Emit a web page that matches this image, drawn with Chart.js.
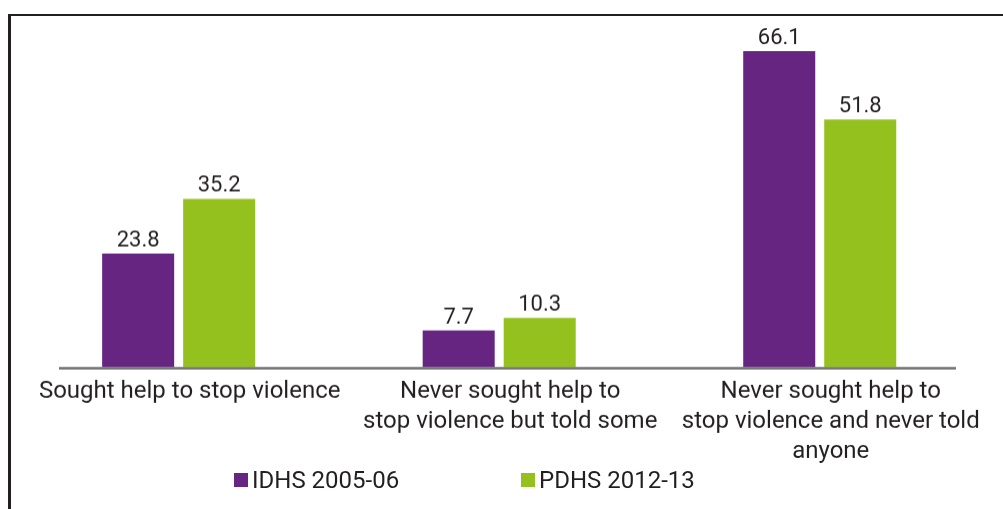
<!DOCTYPE html>
<html>
<head>
<meta charset="utf-8">
<script src="https://cdn.jsdelivr.net/npm/chart.js@4.4.1/dist/chart.umd.min.js"></script>
<style>
  html, body { margin: 0; padding: 0; background: #fff; }
  body { width: 1003px; height: 509px; position: relative; overflow: hidden; font-family: Roboto, sans-serif; }
  .frame { position: absolute; left: 8px; top: 14px; width: 1100px; height: 600px;
           border-left: 3px solid #231f20; border-top: 2px solid #231f20; box-sizing: border-box; }
  .wrap { position: absolute; left: 0; top: 0; width: 1003px; height: 509px; }
  #legend { position: absolute; top: 466px; left: 0; width: 1003px; height: 28px; font-size: 24px; color: #231f20; }
  #legend .item { position: absolute; top: 0; line-height: 28px; white-space: nowrap; }
  #legend .sw { display: inline-block; width: 14px; height: 14px; margin-right: 4px; vertical-align: 1px; }
</style>
</head>
<body>
<div class="frame"></div>
<div class="wrap"><canvas id="chartHelp"></canvas></div>
<div id="legend"></div>
<script>
// Help-seeking among women who experienced violence (%), IDHS vs PDHS

const CATEGORIES = [
  ['Sought help to stop violence'],
  ['Never sought help to', 'stop violence but told some'],
  ['Never sought help to', 'stop violence and never told', 'anyone'],
];
const SERIES_NAMES = ['IDHS 2005-06', 'PDHS 2012-13'];
const IDHS_VALUES = [23.8, 7.7, 66.1];
const PDHS_VALUES = [35.2, 10.3, 51.8];

const COLORS = {
  purple: '#652581',
  green: '#95c11f',
  ink: '#231f20',
  axis: '#6e6e6e',
};

// value labels above each bar
const barLabels = {
  id: 'barLabels',
  afterDatasetsDraw(chart) {
    const ctx = chart.ctx;
    ctx.save();
    ctx.font = '22px Roboto';
    ctx.fillStyle = COLORS.ink;
    ctx.textAlign = 'center';
    ctx.textBaseline = 'alphabetic';
    chart.data.datasets.forEach((ds, i) => {
      chart.getDatasetMeta(i).data.forEach((bar, j) => {
        ctx.fillText(ds.data[j].toFixed(1), bar.x, bar.y - 7);
      });
    });
    ctx.restore();
  }
};

// baseline rule, a bit shorter than the plot width like the original
const baseLine = {
  id: 'baseLine',
  afterDatasetsDraw(chart) {
    const ctx = chart.ctx;
    const y = chart.scales.y.getPixelForValue(0) + 1;
    ctx.save();
    ctx.strokeStyle = COLORS.axis;
    ctx.lineWidth = 2.5;
    ctx.beginPath();
    ctx.moveTo(59, y);
    ctx.lineTo(956, y);
    ctx.stroke();
    ctx.restore();
  }
};

const chart = new Chart(document.getElementById('chartHelp'), {
  type: 'bar',
  data: {
    labels: CATEGORIES,
    datasets: [
      { label: SERIES_NAMES[0], data: IDHS_VALUES, backgroundColor: COLORS.purple },
      { label: SERIES_NAMES[1], data: PDHS_VALUES, backgroundColor: COLORS.green },
    ]
  },
  options: {
    responsive: false,
    animation: false,
    devicePixelRatio: 1,
    categoryPercentage: 0.5055,
    barPercentage: 0.889,
    layout: { padding: { left: 18.4, right: 23, top: 32.4, bottom: 0 } },
    plugins: { legend: { display: false }, tooltip: { enabled: false } },
    scales: {
      y: { display: false, min: 0, max: 70 },
      x: {
        grid: { display: false, drawTicks: false },
        border: { display: false },
        afterFit: (s) => { s.height = 135; },
        ticks: {
          color: COLORS.ink,
          font: { family: 'Roboto', size: 24, lineHeight: 1.25 },
          padding: 9,
          labelOffset: 11,
          maxRotation: 0,
          autoSkip: false,
        }
      }
    }
  },
  plugins: [barLabels, baseLine]
});
chart.canvas.style.width = '1003px';
chart.canvas.style.height = '509px';
chart.resize(1003, 509);

// html legend built from the chart's datasets
const legendEl = document.getElementById('legend');
const legendX = [234, 521];
chart.data.datasets.forEach((ds, i) => {
  const item = document.createElement('div');
  item.className = 'item';
  item.style.left = legendX[i] + 'px';
  const sw = document.createElement('span');
  sw.className = 'sw';
  sw.style.background = ds.backgroundColor;
  item.appendChild(sw);
  item.appendChild(document.createTextNode(ds.label));
  legendEl.appendChild(item);
});
</script>
</body>
</html>
